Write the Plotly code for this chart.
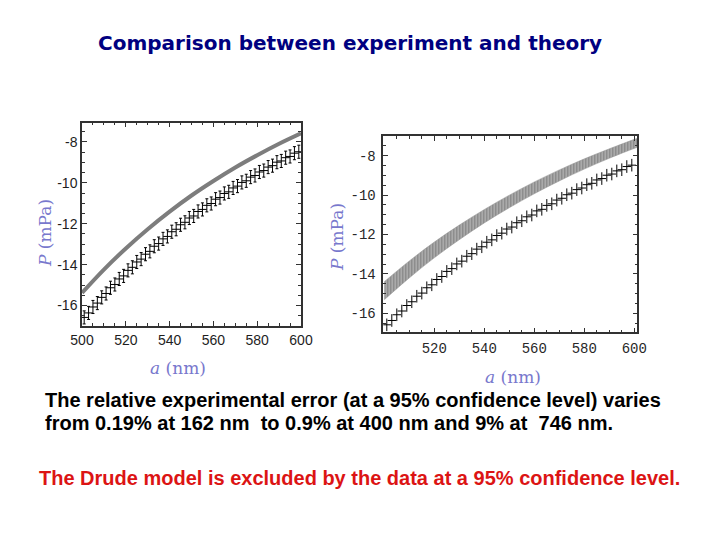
import plotly.graph_objects as go

# experimental points (same data on both panels), a in nm, P in mPa
exp_a = [501, 503, 505, 507, 509, 511, 513, 515, 517, 519,
         521, 523, 525, 527, 529, 531, 533, 535, 537, 539,
         541, 543, 545, 547, 549, 551, 553, 555, 557, 559,
         561, 563, 565, 567, 569, 571, 573, 575, 577, 579,
         581, 583, 585, 587, 589, 591, 593, 595, 597, 599]
exp_p = [-16.58, -16.36, -16.07, -15.88, -15.60, -15.41, -15.13, -14.97, -14.70, -14.55,
         -14.28, -14.13, -13.87, -13.73, -13.49, -13.35, -13.10, -12.97, -12.74, -12.62,
         -12.39, -12.27, -12.05, -11.93, -11.72, -11.62, -11.40, -11.30, -11.10, -11.01,
         -10.80, -10.72, -10.52, -10.44, -10.25, -10.16, -9.98, -9.90, -9.72, -9.64,
         -9.47, -9.40, -9.23, -9.16, -8.99, -8.93, -8.77, -8.71, -8.55, -8.48]
exp_err = 0.32

# left panel: Drude model prediction (thick gray line)
theo_a = [500, 510, 520, 530, 540, 550, 560, 570, 580, 590, 600]
theo_p = [-15.38, -14.24, -13.21, -12.27, -11.41, -10.62, -9.91, -9.25, -8.65, -8.09, -7.58]

# right panel: theory band (upper and lower edges)
band_a = [500, 510, 520, 530, 540, 550, 560, 570, 580, 590, 600, 602]
band_hi = [-14.39, -13.34, -12.38, -11.52, -10.73, -10.00, -9.33, -8.72, -8.16, -7.65, -7.17, -7.08]
band_lo = [-15.31, -14.20, -13.18, -12.26, -11.41, -10.64, -9.93, -9.28, -8.68, -8.13, -7.63, -7.54]

x_ticks = [500, 520, 540, 560, 580, 600]
y_ticks = [-16, -14, -12, -10, -8]
y_tick_text = ["-16", "-14", "-12", "-10", "-8"]

title = "Comparison between experiment and theory"
note1 = "The relative experimental error (at a 95% confidence level) varies"
note2 = "from 0.19% at 162 nm  to 0.9% at 400 nm and 9% at  746 nm."
note3 = "The Drude model is excluded by the data at a 95% confidence level."

# page body adds an 8px margin, so the figure is drawn 8px smaller and shifted
OFF = 8
W, H = 720 - OFF, 540 - OFF


def px(x):
    return (x - OFF) / W


def py(y):
    return 1 - (y - OFF) / H


fig = go.Figure()

# left panel
fig.add_trace(go.Scatter(x=theo_a, y=theo_p, mode="lines", line_shape="spline",
                         line=dict(color="rgb(125,125,125)", width=4),
                         xaxis="x", yaxis="y", showlegend=False))
fig.add_trace(go.Scatter(x=exp_a, y=exp_p, mode="markers",
                         marker=dict(symbol="line-ew-open", size=6, color="black",
                                     line=dict(color="black", width=1)),
                         error_y=dict(type="constant", value=exp_err, color="black",
                                      thickness=1, width=1.5),
                         xaxis="x", yaxis="y", showlegend=False))

# right panel
fig.add_trace(go.Scatter(x=band_a, y=band_lo, mode="lines", line_shape="spline",
                         line=dict(color="rgb(150,150,150)", width=0.5),
                         xaxis="x2", yaxis="y2", showlegend=False))
fig.add_trace(go.Scatter(x=band_a, y=band_hi, mode="lines", line_shape="spline",
                         line=dict(color="rgb(150,150,150)", width=0.5),
                         fill="tonexty", fillcolor="rgb(160,160,160)",
                         fillpattern=dict(shape="|", fgcolor="rgb(128,128,128)",
                                          bgcolor="rgb(175,175,175)", size=3, solidity=0.4),
                         xaxis="x2", yaxis="y2", showlegend=False))
fig.add_trace(go.Scatter(x=exp_a, y=exp_p, mode="markers",
                         marker=dict(symbol="line-ew-open", size=6, color="black",
                                     line=dict(color="black", width=1)),
                         error_y=dict(type="constant", value=exp_err, color="black",
                                      thickness=1, width=0),
                         xaxis="x2", yaxis="y2", showlegend=False))

frame = dict(showline=True, linecolor="rgb(50,50,50)", linewidth=1.5, mirror="allticks",
             ticks="inside", ticklen=5, tickcolor="rgb(50,50,50)", showgrid=False,
             zeroline=False, automargin=False)
sans = dict(family="Liberation Sans, Arial, sans-serif", size=14, color="rgb(30,30,30)")
mono = dict(family="Liberation Mono, Courier New, monospace", size=14, color="rgb(40,40,40)")

fig.update_layout(
    template="none",
    width=W, height=H, margin=dict(l=0, r=0, t=0, b=0, autoexpand=False),
    paper_bgcolor="white", plot_bgcolor="white",
    xaxis=dict(domain=[px(82), px(301)], range=[500, 600], tickvals=x_ticks,
               tickfont=sans, anchor="y",
               minor=dict(dtick=5, ticks="inside", ticklen=3, tickcolor="rgb(50,50,50)"),
               **frame),
    yaxis=dict(domain=[py(326), py(122.5)], range=[-17, -7.05],
               tickvals=y_ticks, ticktext=y_tick_text, tickfont=sans, anchor="x",
               minor=dict(dtick=0.5, ticks="inside", ticklen=3, tickcolor="rgb(50,50,50)"),
               **frame),
    xaxis2=dict(domain=[px(383.3), px(637.3)], range=[499.6, 601.2],
                tickvals=x_ticks[1:], tickfont=mono, anchor="y2",
                minor=dict(dtick=5, ticks="inside", ticklen=3, tickcolor="rgb(50,50,50)"),
                ticklabelstandoff=2, **frame),
    yaxis2=dict(domain=[py(332.3), py(136)], range=[-16.96, -7.0],
                tickvals=y_ticks, ticktext=y_tick_text, tickfont=mono, anchor="x2",
                minor=dict(dtick=0.5, ticks="inside", ticklen=3, tickcolor="rgb(50,50,50)"),
                ticklabelstandoff=3, **frame),
)


def label(x, y, text, font, angle=0, xanchor="center"):
    fig.add_annotation(x=px(x), y=py(y), xref="paper", yref="paper", showarrow=False,
                       text=text, textangle=angle, font=font,
                       xanchor=xanchor, yanchor="middle")


axis_title_font = dict(family="DejaVu Serif, Liberation Serif, serif", size=17,
                       color="rgb(120,120,205)")
label(45, 233, "<i>P</i> (mPa)", axis_title_font, angle=-90)
label(337, 237, "<i>P</i> (mPa)", axis_title_font, angle=-90)
label(178, 368, "<i>a</i> (nm)", axis_title_font)
label(513, 377, "<i>a</i> (nm)", axis_title_font)

label(350, 43, "<b>" + title + "</b>",
      dict(family="DejaVu Sans, Liberation Sans, sans-serif", size=20, color="rgb(0,0,128)"))
body = "Liberation Sans, Arial, sans-serif"
label(43, 400, "<b>" + note1 + "</b>", dict(family=body, size=20, color="black"),
      xanchor="left")
label(43, 423, "<b>" + note2 + "</b>", dict(family=body, size=20, color="black"),
      xanchor="left")
label(37, 478, "<b>" + note3 + "</b>", dict(family=body, size=20, color="rgb(220,20,20)"),
      xanchor="left")

fig.write_html("out.html")
